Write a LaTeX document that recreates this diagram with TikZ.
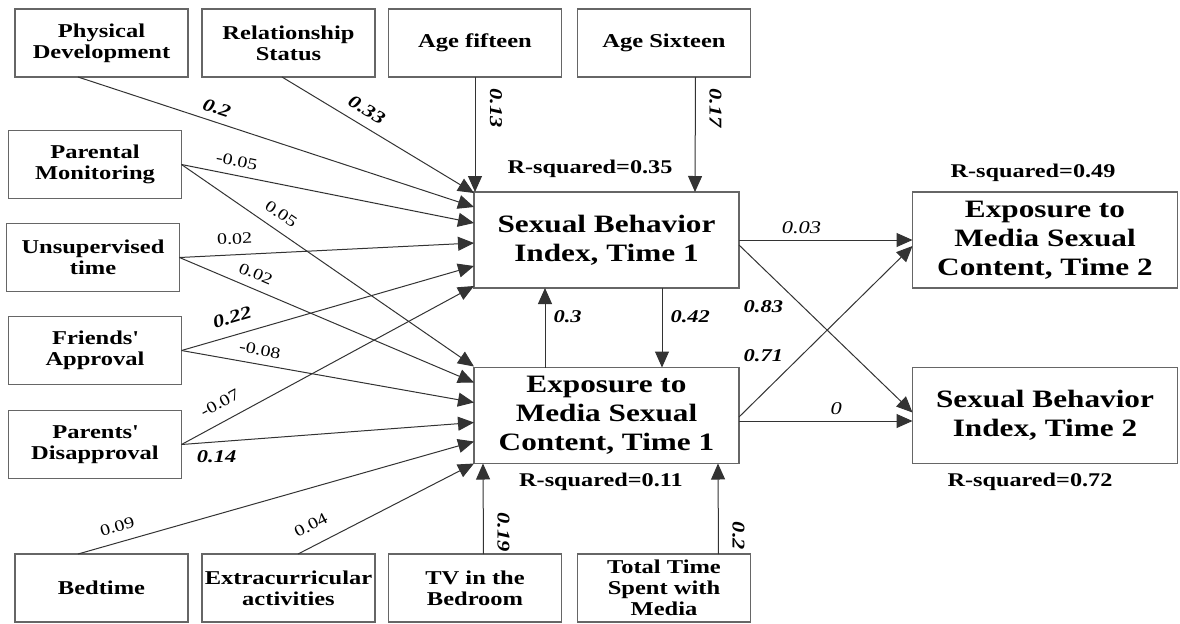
\documentclass[tikz,border=0pt]{standalone}
\usepackage{fontspec}
\setmainfont{Liberation Serif}[FakeStretch=1.25]
\usepackage{tikz}
\usetikzlibrary{positioning,calc,arrows.meta}
\tikzset{
  box/.style    = {draw=black!60, line width=0.6pt, fill=white, align=center, inner sep=1pt, outer sep=0pt,
                   minimum width=86.5pt, minimum height=34pt, font=\bfseries\fontsize{9.8}{10.5}\selectfont},
  bigbox/.style = {box, minimum width=132.5pt, minimum height=48pt, font=\bfseries\fontsize{12.5}{14.5}\selectfont},
  link/.style   = {draw=black!80, line width=0.5pt, -{Triangle[length=8pt,width=7pt]}},
  coef/.style   = {font=\fontsize{8}{9}\selectfont, inner sep=1pt},
  coefb/.style  = {font=\bfseries\itshape\fontsize{9}{10}\selectfont, inner sep=1pt},
  coefi/.style  = {font=\itshape\fontsize{9}{10}\selectfont, inner sep=1pt},
  rsq/.style    = {font=\bfseries\fontsize{9.7}{10}\selectfont, inner sep=0pt},
}
\begin{document}
\begin{tikzpicture}[x=0.5pt,y=-0.5pt]
  \useasboundingbox (0,0) rectangle (1180,623);
  % ----- predictors, top row -----
  \node[box] (phys)  at (101.5,43) {Physical\\Development};
  \node[box] (rel)   at (288.5,43) {Relationship\\Status};
  \node[box] (age15) at (475,43)   {Age fifteen};
  \node[box] (age16) at (664,43)   {Age Sixteen};
  % ----- predictors, left column -----
  \node[box] (mon)   at (95,164.5) {Parental\\Monitoring};
  \node[box] (uns)   at (93,257.5) {Unsupervised\\time};
  \node[box] (fri)   at (95,350.5) {Friends\textquotesingle\\Approval};
  \node[box] (par)   at (95,444.5) {Parents\textquotesingle\\Disapproval};
  % ----- predictors, bottom row -----
  \node[box] (bed)   at (101.5,588) {Bedtime};
  \node[box] (extra) at (288.5,588) {Extracurricular\\activities};
  \node[box] (tv)    at (475,588)   {TV in the\\Bedroom};
  \node[box] (total) at (664,588)   {Total Time\\Spent with\\Media};
  % ----- outcomes -----
  \node[bigbox] (sb1) at (606.5,240)   {Sexual Behavior\\Index, Time 1};
  \node[bigbox] (em1) at (606.5,415.5) {Exposure to\\Media Sexual\\Content, Time 1};
  \node[bigbox] (em2) at (1045,240)    {Exposure to\\Media Sexual\\Content, Time 2};
  \node[bigbox] (sb2) at (1045,415.5)  {Sexual Behavior\\Index, Time 2};

  \node[rsq] (r-sb1) at (590,169)  {R-squared=0.35};
  \node[rsq] (r-em1) at (601,482)  {R-squared=0.11};
  \node[rsq] (r-em2) at (1033,173) {R-squared=0.49};
  \node[rsq] (r-sb2) at (1030,482) {R-squared=0.72};

  % ----- paths into time 1 sexual behavior -----
  \draw[link] ($(phys.south west)+(63,0)$) -- ($(sb1.north west)+(0,15)$)
    node[coefb, pos=.34, sloped, above=2.5pt] (c-phys) {0.2};
  \draw[link] ($(rel.south west)+(80,0)$) -- ($(sb1.north west)+(0,1)$)
    node[coefb, pos=.40, sloped, above=3.5pt] (c-rel) {0.33};
  \draw[link] (age15.south) -- (age15.south |- sb1.north)
    node[coefb, pos=.27, xshift=10.5pt, rotate=-90] (c-age15) {0.13};
  \draw[link] ($(age16.south west)+(118,0)$) -- ($(sb1.north west)+(221,0)$)
    node[coefb, pos=.27, xshift=10pt, rotate=-90] (c-age16) {0.17};
  \draw[link] (mon.east) -- ($(sb1.north west)+(0,31)$)
    node[coef, pos=.18, sloped, above=3pt] (c-mon1) {-0.05};
  \draw[link] (uns.east) -- ($(sb1.north west)+(0,51)$)
    node[coef, pos=.19, sloped, above=4pt] (c-uns1) {0.02};
  \draw[link] (fri.east) -- ($(sb1.north west)+(0,74)$)
    node[coefb, pos=.19, sloped, above=4.5pt] (c-fri1) {0.22};
  \draw[link] (par.east) -- ($(sb1.north west)+(0,94)$)
    node[coef, pos=.16, sloped, above=5pt] (c-par1) {-0.07};

  % ----- paths into time 1 exposure -----
  \draw[link] (mon.east) -- ($(em1.north west)+(0,-1)$)
    node[coef, pos=.31, sloped, above=4pt] (c-mon2) {0.05};
  \draw[link] (uns.east) -- ($(em1.north west)+(0,15)$)
    node[coef, pos=.24, sloped, above=3.3pt] (c-uns2) {0.02};
  \draw[link] (fri.east) -- ($(em1.north west)+(0,35)$)
    node[coef, pos=.26, sloped, above=3pt] (c-fri2) {-0.08};
  \draw[link] (par.east) -- ($(em1.north west)+(0,55)$)
    node[coefb, pos=.12, below=3pt] (c-par2) {0.14};
  \draw[link] ($(bed.north west)+(63,0)$) -- ($(em1.north west)+(0,74)$)
    node[coef, pos=.11, sloped, above=4pt] (c-bed) {0.09};
  \draw[link] ($(extra.north west)+(96,0)$) -- (em1.south west)
    node[coef, pos=.125, sloped, above=6pt] (c-extra) {0.04};
  \draw[link] ($(tv.north west)+(95,0)$) -- ($(em1.south west)+(9,0)$)
    node[coefb, pos=.24, xshift=10pt, rotate=-90] (c-tv) {0.19};
  \draw[link] ($(total.north west)+(141,0)$) -- ($(em1.south west)+(244,0)$)
    node[coefb, pos=.2, xshift=10pt, rotate=-90] (c-total) {0.2};

  % ----- cross-lagged -----
  \draw[link] ($(sb1.south west)+(188,0)$) -- ($(em1.north west)+(188,0)$)
    node[coefb, pos=.36, right=3pt] (c-sb1em1) {0.42};
  \draw[link] ($(em1.north west)+(71,0)$) -- ($(sb1.south west)+(71,0)$)
    node[coefb, pos=.64, right=3pt] (c-em1sb1) {0.3};
  \draw[link] (sb1.east) -- (em2.west)
    node[coefi, pos=.36, above=2pt] (c-sb1em2) {0.03};
  \draw[link] ($(sb1.north east)+(0,53)$) -- ($(sb2.north west)+(0,45)$)
    node[coefb, pos=.25, xshift=-9.5pt, yshift=-10pt] (c-sb1sb2) {0.83};
  \draw[link] ($(em1.east)+(0,1.5)$) -- ($(em2.north west)+(0,54)$)
    node[coefb, pos=.25, xshift=-9.5pt, yshift=9.5pt] (c-em1em2) {0.71};
  \draw[link] ($(em1.east)+(0,5.5)$) -- ($(sb2.west)+(0,5.5)$)
    node[coefi, pos=.56, above=2pt] (c-em1sb2) {0};
\end{tikzpicture}
\end{document}
